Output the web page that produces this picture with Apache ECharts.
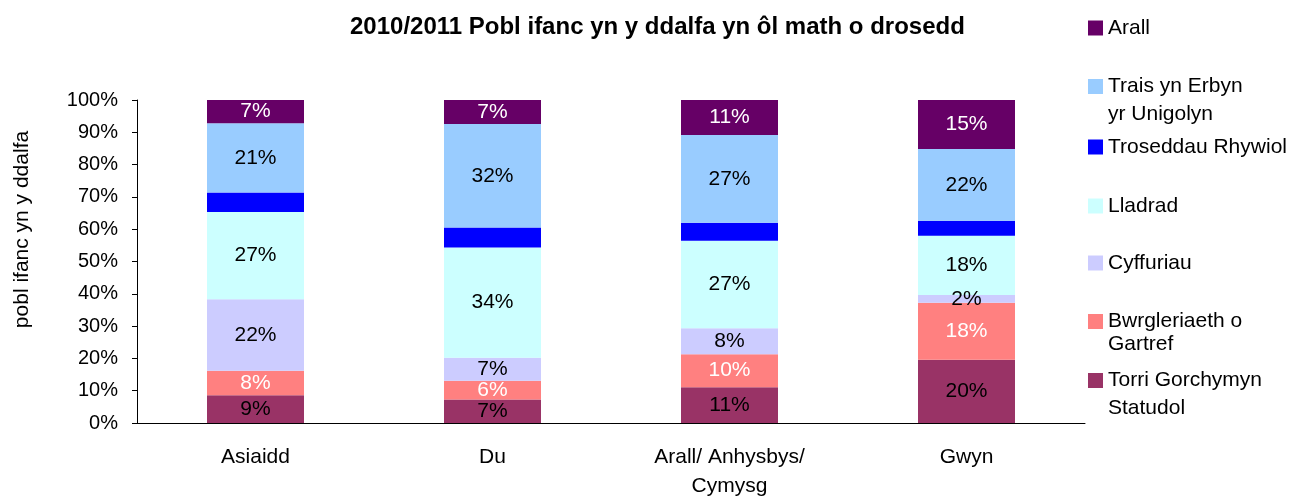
<!DOCTYPE html>
<html>
<head>
<meta charset="utf-8">
<script src="https://cdn.jsdelivr.net/npm/echarts@6/dist/echarts.min.js"></script>
<style>
  html, body { margin: 0; padding: 0; background: #fff; }
  #main { width: 1294px; height: 496px; }
</style>
</head>
<body>
<div id="main"></div>
<script>
var categories = ['Asiaidd', 'Du', 'Arall/ Anhysbys/\nCymysg', 'Gwyn'];

// percentages, bottom of the stack first
var torri = [8.6, 7.3, 11.1, 19.6];
var bwrgleriaeth = [7.6, 5.8, 10.2, 17.6];
var cyffuriau = [22.1, 7.1, 8.0, 2.4];
var lladrad = [27.0, 34.1, 27.1, 18.4];
var rhywiol = [6.1, 6.2, 5.6, 4.6];
var trais = [21.4, 32.1, 27.2, 22.2];
var arall = [7.2, 7.4, 10.8, 15.2];

var yTicks = [0, 10, 20, 30, 40, 50, 60, 70, 80, 90, 100];

var font = '"Liberation Sans", Arial, sans-serif';

var myChart = echarts.init(document.getElementById('main'));

function stackSeries(name, data, color, labelColor, showLabel) {
    return {
        name: name,
        type: 'bar',
        stack: 'total',
        barWidth: 97,
        data: data,
        itemStyle: { color: color },
        label: {
            show: showLabel,
            position: 'inside',
            color: labelColor,
            fontFamily: font,
            fontSize: 21,
            formatter: function (p) {
                return Math.round(p.value) + '%';
            }
        }
    };
}

// one legend per item so the spacing can follow the original
function legendItem(name, top, lineHeight) {
    var twoLines = name.indexOf('\n') >= 0;
    return {
        data: [name],
        orient: 'vertical',
        left: 1088,
        top: top,
        padding: 0,
        icon: 'rect',
        itemWidth: 15,
        itemHeight: 15,
        selectedMode: false,
        // empty first line keeps the icon level with the first text line
        formatter: function (n) {
            return twoLines ? ' \n' + n : n;
        },
        textStyle: {
            fontFamily: font,
            fontSize: 21,
            color: '#000',
            lineHeight: lineHeight
        }
    };
}

var option = {
    animation: false,
    title: {
        text: '2010/2011 Pobl ifanc yn y ddalfa yn ôl math o drosedd',
        left: 350,
        top: 15,
        padding: 0,
        textStyle: {
            fontFamily: font,
            fontSize: 24,
            fontWeight: 'bold',
            color: '#000'
        }
    },
    legend: [
        legendItem('Arall', 17.5, 20),
        legendItem('Trais yn Erbyn\nyr Unigolyn', 44.5, 28),
        legendItem('Troseddau Rhywiol', 136.5, 20),
        legendItem('Lladrad', 195.5, 20),
        legendItem('Cyffuriau', 252.5, 20),
        legendItem('Bwrgleriaeth o\nGartref', 287, 23),
        legendItem('Torri Gorchymyn\nStatudol', 338.5, 28)
    ],
    grid: {
        left: 137,
        right: 209,
        top: 100,
        bottom: 73,
        outerBoundsMode: 'none'
    },
    xAxis: {
        type: 'category',
        data: categories,
        axisLine: { lineStyle: { color: '#000', width: 1 } },
        axisTick: { show: false },
        axisLabel: {
            fontFamily: font,
            fontSize: 21,
            color: '#000',
            lineHeight: 29,
            margin: 20
        }
    },
    yAxis: {
        type: 'value',
        min: yTicks[0],
        max: yTicks[yTicks.length - 1],
        interval: 10,
        name: 'pobl ifanc yn y ddalfa',
        nameLocation: 'middle',
        nameRotate: 90,
        nameGap: 104,
        nameTextStyle: {
            fontFamily: font,
            fontSize: 21,
            color: '#000',
            padding: [0, 0, 0, 64]
        },
        axisLine: { show: true, lineStyle: { color: '#000', width: 1 } },
        axisTick: { show: true, length: 5, lineStyle: { color: '#000' } },
        splitLine: { show: false },
        axisLabel: {
            fontFamily: font,
            fontSize: 20,
            color: '#000',
            margin: 19,
            formatter: '{value}%'
        }
    },
    series: [
        stackSeries('Torri Gorchymyn\nStatudol', torri, '#993366', '#000', true),
        stackSeries('Bwrgleriaeth o\nGartref', bwrgleriaeth, '#FF8080', '#fff', true),
        stackSeries('Cyffuriau', cyffuriau, '#CCCCFF', '#000', true),
        stackSeries('Lladrad', lladrad, '#CCFFFF', '#000', true),
        stackSeries('Troseddau Rhywiol', rhywiol, '#0000FF', '#000', false),
        stackSeries('Trais yn Erbyn\nyr Unigolyn', trais, '#99CCFF', '#000', true),
        stackSeries('Arall', arall, '#660066', '#fff', true)
    ]
};

myChart.setOption(option);
</script>
</body>
</html>
